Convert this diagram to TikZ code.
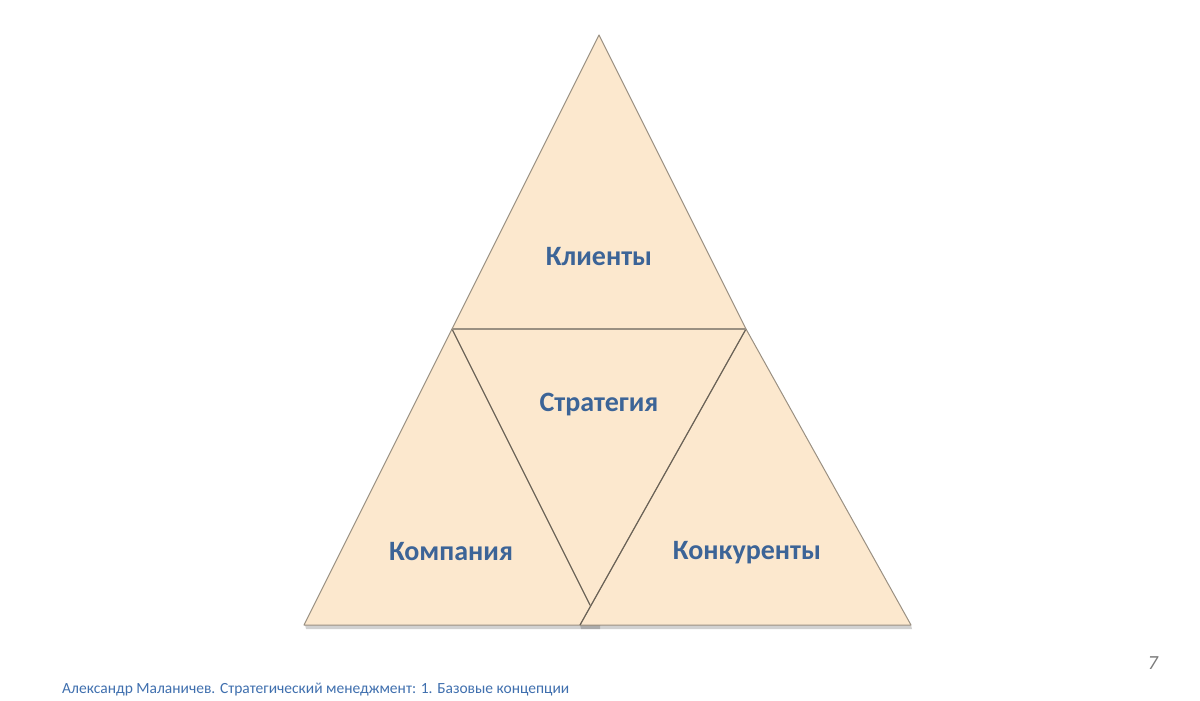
\documentclass[tikz,border=0pt]{standalone}
\usepackage{fontspec}
\setmainfont{Carlito}
\definecolor{peach}{HTML}{FCE8CE}
\definecolor{edge}{HTML}{9A9082}
\definecolor{inner}{HTML}{6A6256}
\definecolor{txtblue}{HTML}{3C6497}
\definecolor{foot}{HTML}{3F6FAE}
\definecolor{pgnum}{HTML}{7A7A7A}
\begin{document}
\begin{tikzpicture}[x=1pt,y=-1pt,
  tri/.style={fill=peach,draw=edge,line width=1pt,line join=round},
  shadow/.style={fill=black,opacity=0.18,draw=none},
  lab/.style={font=\fontsize{28}{32}\selectfont\bfseries,text=txtblue,inner sep=0pt}]
\useasboundingbox (0,0) rectangle (1200,701);
% key points
\coordinate (T) at (599,35);
\coordinate (L) at (452,329);
\coordinate (R) at (746,329);
\coordinate (LB1) at (304,625);
\coordinate (LB2) at (600,625);
\coordinate (RB1) at (580,625);
\coordinate (RB2) at (911,625);
% shadows
\fill[shadow] (305,625) -- (600,625) -- (600,629) -- (306,629) -- cycle;
\fill[shadow] (580,625) -- (911,625) -- (912,629) -- (581,629) -- cycle;
% top triangle
\draw[tri] (T) -- (R) -- (L) -- cycle;
% middle inverted region fill
\fill[peach] (L) -- (R) -- (590,607) -- cycle;
% left triangle
\draw[tri] (L) -- (LB2) -- (LB1) -- cycle;
% right triangle
\draw[tri] (R) -- (RB2) -- (RB1) -- cycle;
% darker inner edges
\draw[inner,line width=1.1pt] (L) -- (590,605);
\draw[inner,line width=1.1pt] (R) -- (RB1);
\draw[edge,line width=1.1pt] (L) -- (R);
% labels
\node[lab] (klienty) at (599,257) {Клиенты};
\node[lab] (strategiya) at (599,405) {Стратегия};
\node[lab] (kompaniya) at (451,552) {Компания};
\node[lab] (konkurenty) at (747,553) {Конкуренты};
% footer
\node[anchor=west,inner sep=0pt,text=foot,font=\fontsize{15.5}{18}\selectfont] (footer) at (62,690) {Александр Маланичев. Стратегический менеджмент: 1. Базовые концепции};
\node[inner sep=0pt,text=pgnum,font=\fontsize{20}{22}\selectfont\itshape] (page) at (1153,663) {7};
\end{tikzpicture}
\end{document}
